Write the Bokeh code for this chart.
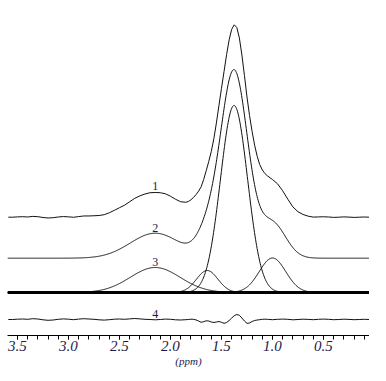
import numpy as np
from bokeh.plotting import figure
from bokeh.models import Range1d, FixedTicker, Span, ColumnDataSource
from bokeh.embed import file_html
from bokeh.resources import INLINE
from bokeh.core.properties import value

# ---- data -------------------------------------------------------------
# fitted components (trace 3): centre (ppm), height (a.u.), sigma (ppm)
peak_centres = [2.15, 1.64, 1.377, 1.00]
peak_heights = [25.0, 22.0, 187.0, 34.5]
peak_sigmas = [0.245, 0.105, 0.133, 0.13]

resid_ppm = [3.59, 3.55, 3.50, 3.45, 3.40, 3.35, 3.30, 3.25, 3.20, 3.15, 3.10,
             3.05, 3.00, 2.95, 2.90, 2.85, 2.80, 2.75, 2.70, 2.65, 2.60, 2.55,
             2.50, 2.45, 2.40, 2.35, 2.30, 2.25, 2.20, 2.15, 2.10, 2.05, 2.00,
             1.95, 1.90, 1.85, 1.825, 1.80, 1.775, 1.75, 1.725, 1.70, 1.675,
             1.65, 1.625, 1.60, 1.575, 1.55, 1.525, 1.50, 1.475, 1.45, 1.425,
             1.40, 1.375, 1.35, 1.325, 1.30, 1.275, 1.25, 1.225, 1.20, 1.175,
             1.15, 1.125, 1.10, 1.075, 1.05, 1.025, 1.00, 0.95, 0.90, 0.85,
             0.80, 0.75, 0.70, 0.65, 0.60, 0.55, 0.50, 0.45, 0.40, 0.35, 0.30,
             0.25, 0.20, 0.15, 0.10, 0.05, 0.04]
resid_vals = [0.0, 0.0, 0.3, 0.5, 0.2, 0.8, 0.5, -0.3, -0.8, -0.5, 0.2,
              0.6, 0.3, -0.2, 0.4, 0.8, 0.5, 0.2, -0.3, -0.6, -0.2, 0.3,
              0.5, 0.2, 0.6, 1.0, 0.6, 0.2, 0.0, -0.3, 0.0, 0.4, 0.2,
              -0.3, -0.5, -0.2, 0.0, 0.3, 0.2, -0.4, -1.5, -2.8, -2.2,
              -1.3, -1.5, -2.5, -3.0, -2.5, -2.0, -2.8, -3.8, -3.0, -1.0,
              1.5, 3.8, 5.0, 4.2, 1.5, -1.5, -3.8, -3.5, -2.0, -1.0,
              -0.5, -0.2, 0.2, 0.3, 0.2, 0.0, -0.2, 0.2, 0.4, 0.2,
              -0.3, 0.0, 0.3, 0.1, -0.2, 0.2, 0.4, 0.2, -0.2, 0.0, 0.3,
              0.1, -0.2, 0.0, 0.2, 0.0, 0.0]
assert len(resid_ppm) == len(resid_vals)

trace_labels = ["1", "2", "3", "4"]
label_ppm = 2.15
tick_values = [3.5, 3.0, 2.5, 2.0, 1.5, 1.0, 0.5]
tick_labels = ["3.5", "3.0", "2.5", "2.0", "1.5", "1.0", "0.5"]

# ---- layout constants --------------------------------------------------
X_LEFT, X_RIGHT = 3.598, 0.049
OFF1, OFF2, OFF3, OFF4 = 75.3, 34.3, 0.0, -27.0
INK = "#111111"
TXT = "#1a1a4a"


def gauss(x, c, h, s):
    return h * np.exp(-((x - c) ** 2) / (2.0 * s ** 2))


def fit_at(x):
    x = np.asarray(x, dtype=float)
    return sum(gauss(x, c, h, s) for c, h, s in zip(peak_centres, peak_heights, peak_sigmas))


p = figure(frame_width=362, frame_height=327, output_backend="svg",
           toolbar_location=None, x_range=Range1d(X_LEFT, X_RIGHT),
           y_range=Range1d(-43, 284), y_axis_location=None,
           min_border_left=7, min_border_right=0, min_border_top=8,
           min_border_bottom=0)
p.outline_line_color = None
p.grid.visible = False
p.background_fill_color = "white"
p.border_fill_color = "white"

xs = np.linspace(X_LEFT, X_RIGHT, 700)

# trace 3: individual components on thick baseline
for c, h, s in zip(peak_centres, peak_heights, peak_sigmas):
    p.line(xs, OFF3 + gauss(xs, c, h, s), line_color=INK, line_width=1)
p.add_layout(Span(location=OFF3, dimension="width", line_color="#000000",
                  line_width=3))

# trace 2: sum of fitted components
p.line(xs, OFF2 + fit_at(xs), line_color=INK, line_width=1)

# trace 1: experimental = fit + residual
rp = np.array(resid_ppm)
rv = np.array(resid_vals)
p.line(rp, OFF1 + fit_at(rp) + rv, line_color=INK, line_width=1)

# trace 4: residual
p.line(rp, OFF4 + rv, line_color=INK, line_width=1)

# number labels above each trace at 2.15 ppm
r_at = rv[np.argmin(np.abs(rp - label_ppm))]
f_at = float(fit_at([label_ppm])[0])
lab_y = [OFF1 + f_at + r_at + 2.0, OFF2 + f_at + 1.5,
         OFF3 + peak_heights[0] + 1.5, OFF4 + r_at + 1.5]
src = ColumnDataSource(dict(x=[label_ppm] * 4, y=lab_y, t=trace_labels))
p.text(x="x", y="y", text="t", source=src, text_font=value("Liberation Serif"),
       text_font_size="12px", text_color=TXT, text_align="center",
       text_baseline="bottom")

# x axis
ax = p.xaxis[0]
ax.ticker = FixedTicker(ticks=tick_values,
                        minor_ticks=[round(0.1 * i, 1) for i in range(1, 36)])
ax.major_label_overrides = {v: l for v, l in zip(tick_values, tick_labels)}
ax.axis_line_color = "#000000"
ax.axis_line_width = 1
ax.major_tick_in = 0
ax.major_tick_out = 4
ax.minor_tick_in = 0
ax.minor_tick_out = 4
ax.major_tick_line_color = "#000000"
ax.minor_tick_line_color = "#000000"
ax.major_label_standoff = 1
ax.major_label_text_font = "Liberation Serif"
ax.major_label_text_font_style = "italic"
ax.major_label_text_font_size = "15px"
ax.major_label_text_color = TXT
ax.axis_label = "(ppm)"
ax.axis_label_standoff = 1
ax.axis_label_text_font = "Liberation Serif"
ax.axis_label_text_font_style = "italic"
ax.axis_label_text_font_size = "11px"
ax.axis_label_text_color = TXT

open("out.html", "w").write(file_html(p, INLINE))
